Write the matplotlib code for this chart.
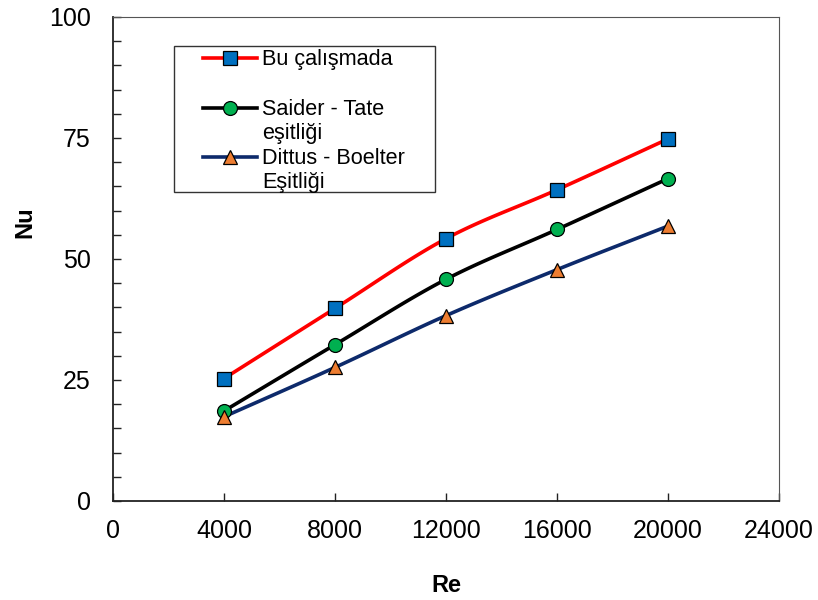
# Nu - Re comparison plot

import matplotlib
matplotlib.use('Agg')
import matplotlib.pyplot as plt
from matplotlib.patches import Rectangle
from matplotlib.lines import Line2D
from matplotlib.ticker import MultipleLocator
import numpy as np

plt.rcParams['font.family'] = ['Liberation Sans', 'DejaVu Sans']

re = [4000, 8000, 12000, 16000, 20000]
nu_bu = [25.3, 39.8, 54.2, 64.3, 74.8]
nu_saider = [18.6, 32.3, 45.8, 56.1, 66.6]
nu_dittus = [17.4, 27.6, 38.3, 47.8, 56.8]

labels = ['Bu çalışmada', 'Saider - Tate\neşitliği', 'Dittus - Boelter\nEşitliği']
line_colors = ['#ff0000', '#000000', '#0d2a6b']
marker_faces = ['#0070c0', '#00b050', '#ed7d31']
markers = ['s', 'o', '^']


def smooth(x, y, n=30):
    """ Catmull-Rom style smoothing for drawing the line only """
    x = np.asarray(x, float)
    y = np.asarray(y, float)
    px = np.concatenate([[2*x[0]-x[1]], x, [2*x[-1]-x[-2]]])
    py = np.concatenate([[2*y[0]-y[1]], y, [2*y[-1]-y[-2]]])
    xs, ys = [], []
    t = np.linspace(0, 1, n)
    for i in range(1, len(px)-2):
        c1x = px[i] + (px[i+1]-px[i-1])/6
        c1y = py[i] + (py[i+1]-py[i-1])/6
        c2x = px[i+1] - (px[i+2]-px[i])/6
        c2y = py[i+1] - (py[i+2]-py[i])/6
        bx = (1-t)**3*px[i] + 3*(1-t)**2*t*c1x + 3*(1-t)*t**2*c2x + t**3*px[i+1]
        by = (1-t)**3*py[i] + 3*(1-t)**2*t*c1y + 3*(1-t)*t**2*c2y + t**3*py[i+1]
        xs.extend(bx)
        ys.extend(by)
    return np.array(xs), np.array(ys)


fig = plt.figure(figsize=(8.18, 6), dpi=100)
ax = fig.add_axes([0.1381, 0.165, 0.8142, 0.8067])

series = [nu_bu, nu_saider, nu_dittus]
for ys, lc, mf, mk in zip(series, line_colors, marker_faces, markers):
    sx, sy = smooth(re, ys)
    ax.plot(sx, sy, color=lc, lw=2.6, zorder=2)
    ax.plot(re, ys, linestyle='none', marker=mk, markersize=10,
            markerfacecolor=mf, markeredgecolor='black', markeredgewidth=0.9,
            zorder=3, clip_on=False)

ax.set_xlim(0, 24000)
ax.set_ylim(0, 100)
ax.xaxis.set_major_locator(MultipleLocator(4000))
ax.yaxis.set_major_locator(MultipleLocator(25))
ax.yaxis.set_minor_locator(MultipleLocator(5))
ax.tick_params(axis='both', which='both', direction='in', length=6, width=1,
               labelsize=18, color='#222222')
ax.tick_params(axis='y', pad=16)
ax.tick_params(axis='x', pad=13)

for s in ['left', 'bottom']:
    ax.spines[s].set_linewidth(1.3)
    ax.spines[s].set_color('#222222')
for s in ['top', 'right']:
    ax.spines[s].set_linewidth(0.8)
    ax.spines[s].set_color('#555555')

ax.set_xlabel('Re', fontsize=17, fontweight='bold')
ax.set_ylabel('Nu', fontsize=17, fontweight='bold')
ax.xaxis.set_label_coords(0.5, -0.1736)
ax.xaxis.label.set_verticalalignment('center')
ax.yaxis.set_label_coords(-0.132, 0.576)
ax.yaxis.label.set_verticalalignment('center')

# legend drawn by hand (Excel style with wrapped labels)
tr = ax.transAxes
def ax_xy(px, py):
    return ((px - 113) / 666.0, (501 - py) / 484.0)

x0, y0 = ax_xy(174, 192)
x1, y1 = ax_xy(435, 46)
ax.add_patch(Rectangle((x0, y0), x1 - x0, y1 - y0, transform=tr,
                       facecolor='white', edgecolor='#333333', lw=1.0, zorder=4))
rows = [58, 108, 157]
for lab, lc, mf, mk, py in zip(labels, line_colors, marker_faces, markers, rows):
    hx0, hy = ax_xy(203, py)
    hx1, _ = ax_xy(257, py)
    hm, _ = ax_xy(230, py)
    ax.add_line(Line2D([hx0, hx1], [hy, hy], transform=tr, color=lc, lw=2.6, zorder=5))
    ax.add_line(Line2D([hm], [hy], transform=tr, marker=mk, markersize=10,
                       markerfacecolor=mf, markeredgecolor='black',
                       markeredgewidth=0.9, zorder=6))
    tx, ty = ax_xy(262, py - 9)
    ax.text(tx, ty, lab, transform=tr, fontsize=15.6, va='top', ha='left',
            linespacing=1.2, zorder=6)

plt.savefig('out.png', dpi=100)
plt.close()
